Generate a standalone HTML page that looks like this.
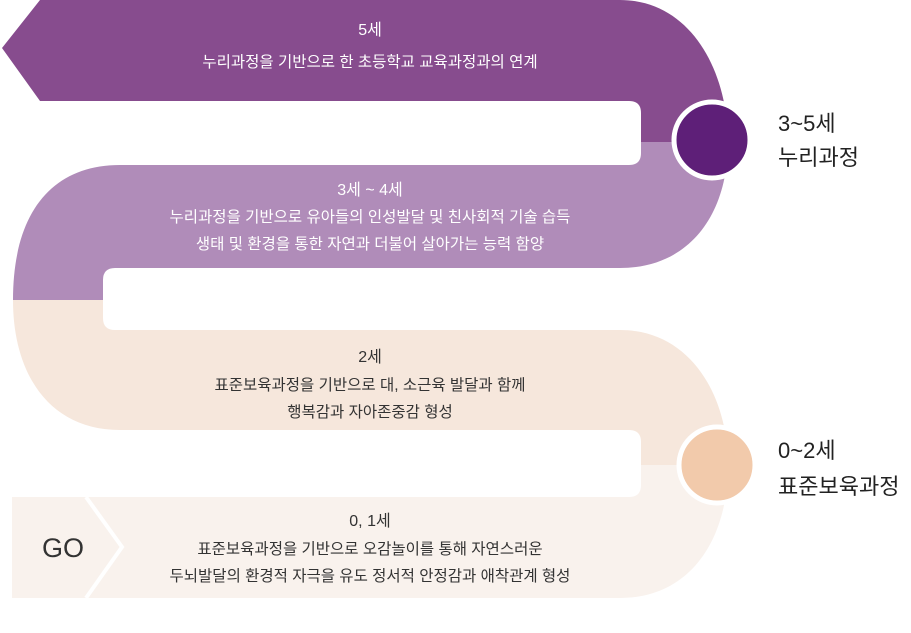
<!DOCTYPE html>
<html><head><meta charset="utf-8"><style>
html,body{margin:0;padding:0;background:#fff;}
svg{display:block;font-family:"Liberation Sans","Noto Sans CJK KR",sans-serif;}
</style></head><body>
<svg width="911" height="633" viewBox="0 0 911 633" xmlns="http://www.w3.org/2000/svg">
<path d="M40 0 H620 C690 0 728 70 728 142 H641 V113 Q641 101 629 101 H40 L2 48 Z" fill="#874c8e"/>
<path d="M641 142 H728 C728 214 690 268 620 268 H115 Q103 268 103 280 V300 H13 C13 215 50 165 120 165 H629 Q641 165 641 153 Z" fill="#b08cb9"/>
<path d="M13 300 H103 V318 Q103 330 115 330 H620 C690 330 728 395 728 465 H641 V442 Q641 430 629 430 H120 C50 430 13 375 13 300 Z" fill="#f6e7dc"/>
<path d="M12 497 H629 Q641 497 641 485 V465 H728 C728 540 690 598 620 598 H12 Z" fill="#f9f2ed"/>
<polyline points="86,497 122,547 86,598" fill="none" stroke="#fff" stroke-width="4"/>
<circle cx="712" cy="140" r="38" fill="#5e1f78" stroke="#fff" stroke-width="5"/>
<circle cx="717" cy="465" r="38" fill="#f2caab" stroke="#fff" stroke-width="5"/>
<g text-anchor="middle" font-size="15.5">
<g fill="#fff">
<text x="370" y="35" font-size="16">5세</text>
<text x="370" y="67">누리과정을 기반으로 한 초등학교 교육과정과의 연계</text>
<text x="370" y="195" font-size="16">3세 ~ 4세</text>
<text x="370" y="222">누리과정을 기반으로 유아들의 인성발달 및 친사회적 기술 습득</text>
<text x="370" y="249">생태 및 환경을 통한 자연과 더불어 살아가는 능력 함양</text>
</g>
<g fill="#333">
<text x="370" y="362" font-size="16">2세</text>
<text x="370" y="390">표준보육과정을 기반으로 대, 소근육 발달과 함께</text>
<text x="370" y="417">행복감과 자아존중감 형성</text>
<text x="370" y="526" font-size="16">0, 1세</text>
<text x="370" y="554">표준보육과정을 기반으로 오감놀이를 통해 자연스러운</text>
<text x="370" y="581">두뇌발달의 환경적 자극을 유도 정서적 안정감과 애착관계 형성</text>
</g>
</g>
<text x="63" y="557" text-anchor="middle" font-size="27" fill="#333">GO</text>
<g font-size="22" fill="#222">
<text x="778" y="131">3~5세</text>
<text x="778" y="165">누리과정</text>
<text x="778" y="458">0~2세</text>
<text x="778" y="494">표준보육과정</text>
</g>
</svg>
</body></html>
